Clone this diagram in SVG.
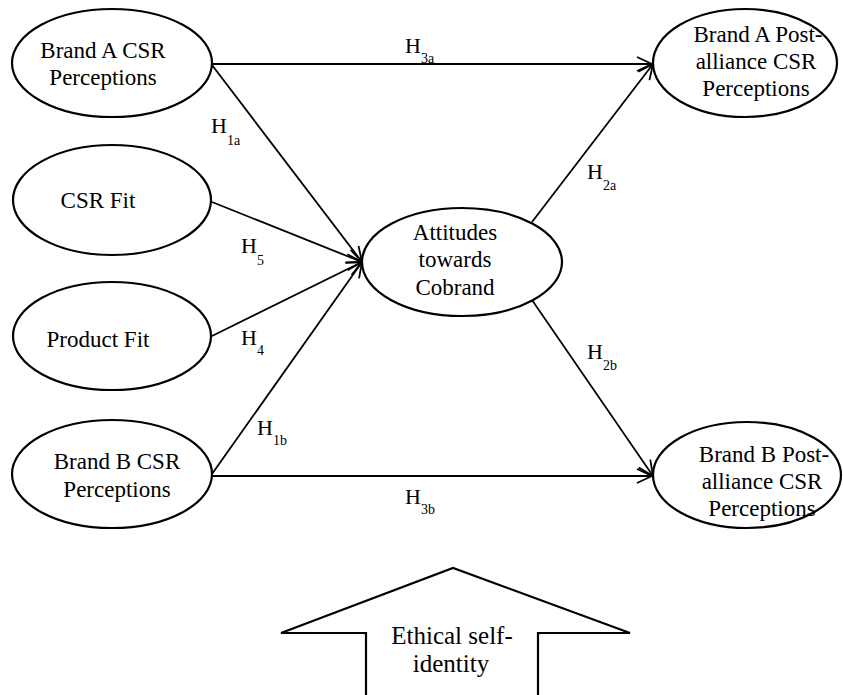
<svg xmlns="http://www.w3.org/2000/svg" width="843" height="695" viewBox="0 0 843 695">
<style>
.node{fill:#fff;stroke:#000;stroke-width:2.2}
.t{font-size:23px;fill:#000;text-anchor:middle}
.h{font-size:22px;fill:#000}
.s{font-size:14px}
.c{stroke:#000;stroke-width:1.8;fill:none;marker-end:url(#arr)}
</style>
<defs>
<marker id="arr" markerUnits="userSpaceOnUse" viewBox="-16 -9 18 18" refX="0" refY="0" markerWidth="18" markerHeight="18" orient="auto">
<path d="M-15,-7 L0,0 L-15,7" fill="none" stroke="#000" stroke-width="1.8"/>
</marker>
</defs>
<rect width="843" height="695" fill="#fff"/>
<g id="connectors">
<line class="c" x1="212" y1="64" x2="652" y2="64"/>
<line class="c" x1="212" y1="65" x2="362" y2="262"/>
<line class="c" x1="212" y1="202" x2="362" y2="262"/>
<line class="c" x1="212" y1="336" x2="362" y2="262"/>
<line class="c" x1="212" y1="474" x2="362" y2="262"/>
<line class="c" x1="212" y1="476" x2="652" y2="476"/>
<line class="c" x1="532" y1="222" x2="653" y2="64"/>
<line class="c" x1="532" y1="300" x2="653" y2="476"/>
</g>
<g id="labels" font-family="'Liberation Serif', 'Times New Roman', 'DejaVu Serif', serif">
<text class="h" x="405" y="53">H<tspan class="s" dy="10">3a</tspan></text>
<text class="h" x="211" y="133">H<tspan class="s" dy="12">1a</tspan></text>
<text class="h" x="241" y="253">H<tspan class="s" dy="12">5</tspan></text>
<text class="h" x="241" y="345">H<tspan class="s" dy="10">4</tspan></text>
<text class="h" x="257" y="435">H<tspan class="s" dy="10">1b</tspan></text>
<text class="h" x="405" y="504">H<tspan class="s" dy="10">3b</tspan></text>
<text class="h" x="587" y="179">H<tspan class="s" dy="11">2a</tspan></text>
<text class="h" x="587" y="359">H<tspan class="s" dy="11">2b</tspan></text>
</g>
<g id="brandA" font-family="'Liberation Serif', 'Times New Roman', 'DejaVu Serif', serif">
<ellipse class="node" cx="112" cy="63" rx="100" ry="54"/>
<text class="t" x="103" y="58">Brand A CSR</text>
<text class="t" x="103" y="85">Perceptions</text>
</g>
<g id="csrFit" font-family="'Liberation Serif', 'Times New Roman', 'DejaVu Serif', serif">
<ellipse class="node" cx="112" cy="200" rx="99" ry="55"/>
<text class="t" x="98" y="208">CSR Fit</text>
</g>
<g id="productFit" font-family="'Liberation Serif', 'Times New Roman', 'DejaVu Serif', serif">
<ellipse class="node" cx="112" cy="336" rx="99" ry="54"/>
<text class="t" x="98" y="347">Product Fit</text>
</g>
<g id="brandB" font-family="'Liberation Serif', 'Times New Roman', 'DejaVu Serif', serif">
<ellipse class="node" cx="112" cy="474" rx="100" ry="54"/>
<text class="t" x="117" y="469">Brand B CSR</text>
<text class="t" x="117" y="497">Perceptions</text>
</g>
<g id="attitudes" font-family="'Liberation Serif', 'Times New Roman', 'DejaVu Serif', serif">
<ellipse class="node" cx="462" cy="262" rx="100" ry="54"/>
<text class="t" x="455" y="240">Attitudes</text>
<text class="t" x="455" y="267">towards</text>
<text class="t" x="455" y="295">Cobrand</text>
</g>
<g id="brandAPost" font-family="'Liberation Serif', 'Times New Roman', 'DejaVu Serif', serif">
<ellipse class="node" cx="745" cy="63" rx="92" ry="54"/>
<text class="t" x="758" y="42">Brand A Post-</text>
<text class="t" x="756" y="69">alliance CSR</text>
<text class="t" x="756" y="96">Perceptions</text>
</g>
<g id="brandBPost" font-family="'Liberation Serif', 'Times New Roman', 'DejaVu Serif', serif">
<ellipse class="node" cx="747" cy="475" rx="94" ry="53"/>
<text class="t" x="764" y="462">Brand B Post-</text>
<text class="t" x="762" y="489">alliance CSR</text>
<text class="t" x="762" y="516">Perceptions</text>
</g>
<g id="ethical" font-family="'Liberation Serif', 'Times New Roman', 'DejaVu Serif', serif">
<polygon points="366,697 366,633 281,633 453,568 630,633 538,633 538,697" fill="#fff" stroke="#000" stroke-width="2.2"/>
<text class="t" style="font-size:25px" x="452" y="644">Ethical self-</text>
<text class="t" style="font-size:25px" x="451" y="672">identity</text>
</g>
</svg>
